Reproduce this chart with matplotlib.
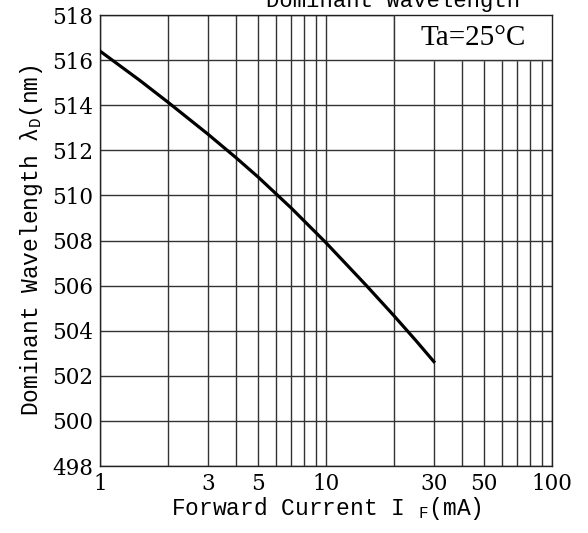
import numpy as np
import matplotlib.pyplot as plt

# datos (corriente directa vs longitud de onda dominante)
corriente = [1, 1.5, 2, 3, 4, 5, 7, 10, 15, 20, 25, 30]
longitud_onda = [516.4, 515.1, 514.13, 512.72, 511.67, 510.82, 509.45,
                 507.9, 506.03, 504.66, 503.56, 502.63]

ticks_x = [1, 3, 5, 10, 30, 50, 100]
etiquetas_x = ['1', '3', '5', '10', '30', '50', '100']
ticks_y = list(range(498, 519, 2))
grid_x = [1, 2, 3, 4, 5, 6, 7, 8, 9, 10, 20, 30, 40, 50, 60, 70, 80, 90, 100]

plt.rcParams['mathtext.fontset'] = 'custom'
plt.rcParams['mathtext.rm'] = 'Liberation Mono'
plt.rcParams['mathtext.it'] = 'Liberation Mono'

fig = plt.figure(figsize=(5.88, 5.33), dpi=100)
ax = fig.add_axes([100/588, 1 - 466/533, 452/588, 451/533])

ax.set_xscale('log')
ax.set_xlim(1, 100)
ax.set_ylim(498, 518)

# rejilla
for g in grid_x:
    ax.axvline(g, color='#333333', lw=1.0, zorder=1)
for g in ticks_y:
    ax.axhline(g, color='#333333', lw=1.0, zorder=1)

# recuadro de temperatura
ax.fill_between([20, 100], 516, 518, color='white', zorder=2)
ax.plot([20, 20, 100], [518, 516, 516], color='#333333', lw=1.0, zorder=3)
ax.text(np.sqrt(20 * 100), 517, 'Ta=25°C', ha='center', va='center',
        fontsize=21, family='Liberation Serif', zorder=4)

ax.plot(corriente, longitud_onda, color='black', lw=2.3, zorder=5)

ax.set_xticks(ticks_x)
ax.set_xticklabels(etiquetas_x)
ax.minorticks_off()
ax.set_yticks(ticks_y)
ax.tick_params(length=0, labelsize=15.5, pad=5)
for lab in ax.get_xticklabels() + ax.get_yticklabels():
    lab.set_family('DejaVu Serif')

for s in ax.spines.values():
    s.set_color('#222222')
    s.set_linewidth(1.0)

ax.set_xlabel(r'Forward Current I $_{\rm F}$(mA)', family='Liberation Mono', fontsize=16.5, labelpad=0)
ax.set_ylabel(r'Dominant Wavelength $\lambda_{\rm D}$(nm)', family='Liberation Mono', fontsize=16.5, labelpad=5)

fig.text(393/588, 0.997, 'Dominant Wavelength', ha='center', va='center',
         family='Liberation Mono', fontsize=16)

plt.savefig('out.png', dpi=100)
